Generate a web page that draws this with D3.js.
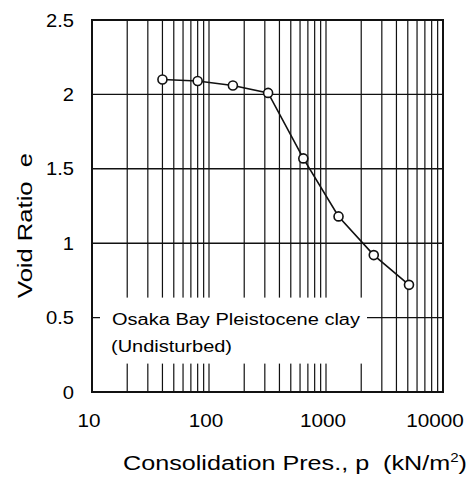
<!DOCTYPE html>
<html><head><meta charset="utf-8">
<script src="https://cdn.jsdelivr.net/npm/d3@7"></script>
<style>
body{margin:0;background:#fff;}
text{font-family:"Liberation Sans",Arial,sans-serif;fill:#000;white-space:pre;}
</style></head>
<body><svg id="c" width="472" height="481"></svg>
<script>
// data
const pressure = [40, 80, 160, 320, 640, 1280, 2560, 5120];
const voidRatio = [2.10, 2.09, 2.06, 2.01, 1.57, 1.18, 0.92, 0.72];
const xTickLabels = ["10", "100", "1000", "10000"];
const yTickLabels = ["0", "0.5", "1", "1.5", "2", "2.5"];
const yTicks = [0, 0.5, 1, 1.5, 2, 2.5];
const xTicks = [10, 100, 1000, 10000];
const legendLines = ["Osaka Bay Pleistocene clay", "(Undisturbed)"];

const svg = d3.select("#c");
const L = 92, R = 443, T = 20, B = 392;
const x = d3.scaleLog().domain([10, 10000]).range([L, R]);
const y = d3.scaleLinear().domain([0, 2.5]).range([B, T]);

// minor grid values
const minor = [];
[10, 100, 1000].forEach(d => { for (let k = 2; k <= 9; k++) minor.push(d * k); });
minor.push(100, 1000);

const g = svg.append("g");
g.selectAll("line.v").data(minor).join("line")
  .attr("x1", d => x(d)).attr("x2", d => x(d))
  .attr("y1", T).attr("y2", B)
  .attr("stroke", "#111").attr("stroke-width", 1.2);
g.selectAll("line.h").data(yTicks.filter(d => d > 0 && d < 2.5)).join("line")
  .attr("x1", L).attr("x2", R)
  .attr("y1", d => y(d)).attr("y2", d => y(d))
  .attr("stroke", "#111").attr("stroke-width", 1.4);

// legend box (white patch)
const boxX0 = 100, boxX1 = 367;
const boxY0 = y(0.5) - 20, boxY1 = y(0.5) + 46;
svg.append("rect").attr("x", boxX0).attr("y", boxY0)
  .attr("width", boxX1 - boxX0).attr("height", boxY1 - boxY0).attr("fill", "#fff");

// frame
svg.append("rect").attr("x", L).attr("y", T).attr("width", R - L).attr("height", B - T)
  .attr("fill", "none").attr("stroke", "#111").attr("stroke-width", 2);

// series
const pts = pressure.map((p, i) => [p, voidRatio[i]]);
svg.append("path").datum(pts)
  .attr("d", d3.line().x(d => x(d[0])).y(d => y(d[1])))
  .attr("fill", "none").attr("stroke", "#111").attr("stroke-width", 1.6);
svg.selectAll("circle.pt").data(pts).join("circle")
  .attr("cx", d => x(d[0])).attr("cy", d => y(d[1])).attr("r", 4.5)
  .attr("fill", "#fff").attr("stroke", "#111").attr("stroke-width", 1.6);

function stretch(sel, f) {
  sel.each(function () {
    const w = this.getComputedTextLength();
    d3.select(this).attr("textLength", w * f).attr("lengthAdjust", "spacingAndGlyphs");
  });
}

// x tick labels
const xl = svg.selectAll("text.xt").data(xTicks).join("text")
  .attr("x", (d, i) => x(d) - (i === 3 ? 8 : 3)).attr("y", 427)
  .attr("text-anchor", "middle").attr("font-size", 18)
  .text((d, i) => xTickLabels[i]);
stretch(xl, 1.15);

// y tick labels
const yl = svg.selectAll("text.yt").data(yTicks).join("text")
  .attr("x", 74).attr("y", d => y(d) + 6.5)
  .attr("text-anchor", "end").attr("font-size", 18)
  .text((d, i) => yTickLabels[i]);
stretch(yl, 1.12);

// axis titles
const xt = svg.append("text").attr("x", 123).attr("y", 470).attr("font-size", 20)
  .attr("textLength", 344).attr("lengthAdjust", "spacingAndGlyphs");
xt.append("tspan").text("Consolidation Pres., p  (kN/m");
xt.append("tspan").attr("font-size", 12).attr("dy", -8).text("2");
xt.append("tspan").attr("dy", 8).text(")");
svg.append("text").attr("transform", "translate(32,298) rotate(-90)")
  .attr("x", 0).attr("y", 0).attr("font-size", 20)
  .attr("textLength", 145).attr("lengthAdjust", "spacingAndGlyphs")
  .text("Void Ratio  e");

// legend text
svg.append("text").attr("x", 112).attr("y", 325).attr("font-size", 16)
  .attr("textLength", 248).attr("lengthAdjust", "spacingAndGlyphs")
  .text(legendLines[0]);
svg.append("text").attr("x", 111).attr("y", 352).attr("font-size", 16)
  .attr("textLength", 121).attr("lengthAdjust", "spacingAndGlyphs")
  .text(legendLines[1]);
</script></body></html>
